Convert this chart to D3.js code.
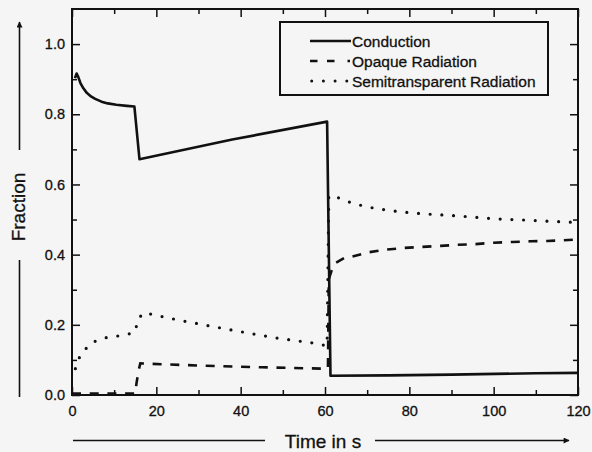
<!DOCTYPE html>
<html>
<head>
<meta charset="utf-8">
<title>fraction vs time</title>
<style>
    body { margin: 0; background: #f5f5f5; }
    svg { display: block; font-family: "Liberation Sans", Arial, sans-serif; }
    svg text { fill: #111; stroke: #111; stroke-width: 0.3; }
    .series { fill: none; stroke: #111; }
    .axis line { stroke: #111; stroke-width: 1.5; }
    .axis text { font-size: 14.5px; }
</style>
<script src="https://cdn.jsdelivr.net/npm/d3@7"></script>
</head>
<body>
<svg id="chart" width="592" height="452"></svg>
<script>
// values (time in s, fraction)
let condT = [0.7, 1.1, 1.5, 2, 2.7, 3.5, 4.5, 5.5, 7, 8.5, 10.5, 13, 14.8, 16, 38, 60.5, 61.3, 75, 90, 110, 120];
let condV = [0.903, 0.916, 0.906, 0.889, 0.874, 0.861, 0.851, 0.844, 0.836, 0.831, 0.827, 0.824, 0.822, 0.672, 0.728, 0.779, 0.055, 0.056, 0.058, 0.062, 0.063];

let opaqT = [0, 15, 15.3, 15.8, 16.2, 30, 45, 59.8, 60.7, 60.9, 61.6, 62.5, 64.5, 66, 70, 74.3, 78.7, 83, 87.4, 91.4, 95.7, 100, 104.4, 108.8, 112.7, 116.3, 120];
let opaqV = [0.004, 0.004, 0.034, 0.07, 0.09, 0.084, 0.079, 0.075, 0.075, 0.33, 0.356, 0.376, 0.39, 0.393, 0.406, 0.414, 0.419, 0.422, 0.425, 0.428, 0.43, 0.434, 0.436, 0.438, 0.439, 0.441, 0.443];

let semiT = [0.8, 2, 4.5, 7.3, 10.2, 13, 15, 15.6, 17.1, 20, 25.5, 31.2, 39.7, 48.2, 56.7, 60.5, 60.9, 61.6, 63.8, 66.6, 69.4, 72.2, 77.8, 83.6, 91.9, 100.3, 108.5, 116.7, 120];
let semiV = [0.075, 0.115, 0.148, 0.162, 0.167, 0.172, 0.18, 0.216, 0.235, 0.227, 0.213, 0.2, 0.181, 0.163, 0.149, 0.14, 0.565, 0.57, 0.559, 0.546, 0.538, 0.531, 0.522, 0.516, 0.51, 0.502, 0.498, 0.493, 0.492];

let names = ['Conduction', 'Opaque Radiation', 'Semitransparent Radiation'];
let xMajor = [0, 20, 40, 60, 80, 100, 120];
let xMinor = [10, 30, 50, 70, 90, 110];
let yMajor = [0, 0.2, 0.4, 0.6, 0.8, 1.0];
let yMinor = [0.1, 0.3, 0.5, 0.7, 0.9];

let svg = d3.select('svg#chart');
let plotL = 72, plotR = 578, plotT = 9, plotB = 395;

let x = d3.scaleLinear().domain([0, 120]).range([plotL, plotR]);
let y = d3.scaleLinear().domain([0, 1.1]).range([plotB, plotT]);

// axes, ticks pointing inward on all four sides
function addAxis(axis, tr, values, size, labels) {
    let g = svg.append('g').attr('class', 'axis').attr('transform', tr)
        .call(axis.tickValues(values).tickSizeInner(-size).tickSizeOuter(0)
            .tickFormat(labels ? labels : ''));
    g.select('.domain').remove();
    return g;
}
addAxis(d3.axisBottom(x).tickPadding(11), 'translate(0,' + plotB + ')', xMajor, 8, d3.format('d'));
addAxis(d3.axisBottom(x), 'translate(0,' + plotB + ')', xMinor, 5);
addAxis(d3.axisTop(x), 'translate(0,' + plotT + ')', xMajor, 8);
addAxis(d3.axisTop(x), 'translate(0,' + plotT + ')', xMinor, 5);
addAxis(d3.axisLeft(y).tickPadding(7), 'translate(' + plotL + ',0)', yMajor, 8, d3.format('.1f'));
addAxis(d3.axisLeft(y), 'translate(' + plotL + ',0)', yMinor, 5);
addAxis(d3.axisRight(y), 'translate(' + plotR + ',0)', yMajor, 8);
addAxis(d3.axisRight(y), 'translate(' + plotR + ',0)', yMinor, 5);

svg.append('rect')
    .attr('x', plotL).attr('y', plotT)
    .attr('width', plotR - plotL).attr('height', plotB - plotT)
    .attr('fill', 'none').attr('stroke', '#111').attr('stroke-width', 2);

let line = d3.line()
    .x(d => x(d[0]))
    .y(d => y(d[1]));

svg.append('path').datum(d3.zip(condT, condV))
    .attr('class', 'series')
    .attr('stroke-width', 2.6)
    .attr('stroke-linejoin', 'round')
    .attr('d', line);

svg.append('path').datum(d3.zip(opaqT, opaqV))
    .attr('class', 'series')
    .attr('stroke-width', 2.6)
    .attr('stroke-dasharray', '9,8.7')
    .attr('d', line);

svg.append('path').datum(d3.zip(semiT, semiV))
    .attr('class', 'series')
    .attr('stroke-width', 3.2)
    .attr('stroke-linecap', 'round')
    .attr('stroke-dasharray', '0,11.7')
    .attr('d', line);

// legend
let lg = svg.append('g');
lg.append('rect')
    .attr('x', 280).attr('y', 22).attr('width', 268).attr('height', 73)
    .attr('fill', 'none').attr('stroke', '#111').attr('stroke-width', 2);
let rows = [41, 61, 81];
lg.append('line').attr('x1', 310).attr('x2', 351).attr('y1', rows[0]).attr('y2', rows[0])
    .attr('stroke', '#111').attr('stroke-width', 2.4);
lg.append('line').attr('x1', 310).attr('x2', 350.5).attr('y1', rows[1]).attr('y2', rows[1])
    .attr('stroke', '#111').attr('stroke-width', 2.4)
    .attr('stroke-dasharray', '7.5 9.5 7.5 13 2.5 20');
lg.append('line').attr('x1', 311.7).attr('x2', 347).attr('y1', rows[2]).attr('y2', rows[2])
    .attr('stroke', '#111').attr('stroke-width', 3).attr('stroke-linecap', 'round')
    .attr('stroke-dasharray', '0,11.7');
lg.selectAll('text.leg').data(names).enter()
    .append('text')
    .attr('class', 'leg')
    .attr('x', 352)
    .attr('y', (d, i) => rows[i])
    .attr('dy', '0.36em')
    .attr('font-size', '15.5px')
    .text(d => d);

// axis titles with arrows
let defs = svg.append('defs');
defs.append('marker')
    .attr('id', 'arrow')
    .attr('viewBox', '0 0 10 10')
    .attr('refX', 9).attr('refY', 5)
    .attr('markerWidth', 8).attr('markerHeight', 6)
    .attr('markerUnits', 'userSpaceOnUse')
    .attr('orient', 'auto')
    .append('path').attr('d', 'M0,0L10,5L0,10Z').attr('fill', '#111');

svg.append('line').attr('x1', 73).attr('x2', 265).attr('y1', 440.5).attr('y2', 440.5)
    .attr('stroke', '#111').attr('stroke-width', 1.6);
svg.append('line').attr('x1', 375).attr('x2', 569).attr('y1', 440.5).attr('y2', 440.5)
    .attr('stroke', '#111').attr('stroke-width', 1.6).attr('marker-end', 'url(#arrow)');
svg.append('text')
    .attr('x', 323).attr('y', 448)
    .attr('text-anchor', 'middle')
    .attr('font-size', '19px')
    .text('Time in s');

svg.append('line').attr('x1', 19.5).attr('x2', 19.5).attr('y1', 397).attr('y2', 260)
    .attr('stroke', '#111').attr('stroke-width', 1.6);
svg.append('line').attr('x1', 19.5).attr('x2', 19.5).attr('y1', 150).attr('y2', 22)
    .attr('stroke', '#111').attr('stroke-width', 1.6).attr('marker-end', 'url(#arrow)');
svg.append('text')
    .attr('transform', 'translate(25,207) rotate(-90)')
    .attr('text-anchor', 'middle')
    .attr('font-size', '19px')
    .text('Fraction');
</script>
</body>
</html>
